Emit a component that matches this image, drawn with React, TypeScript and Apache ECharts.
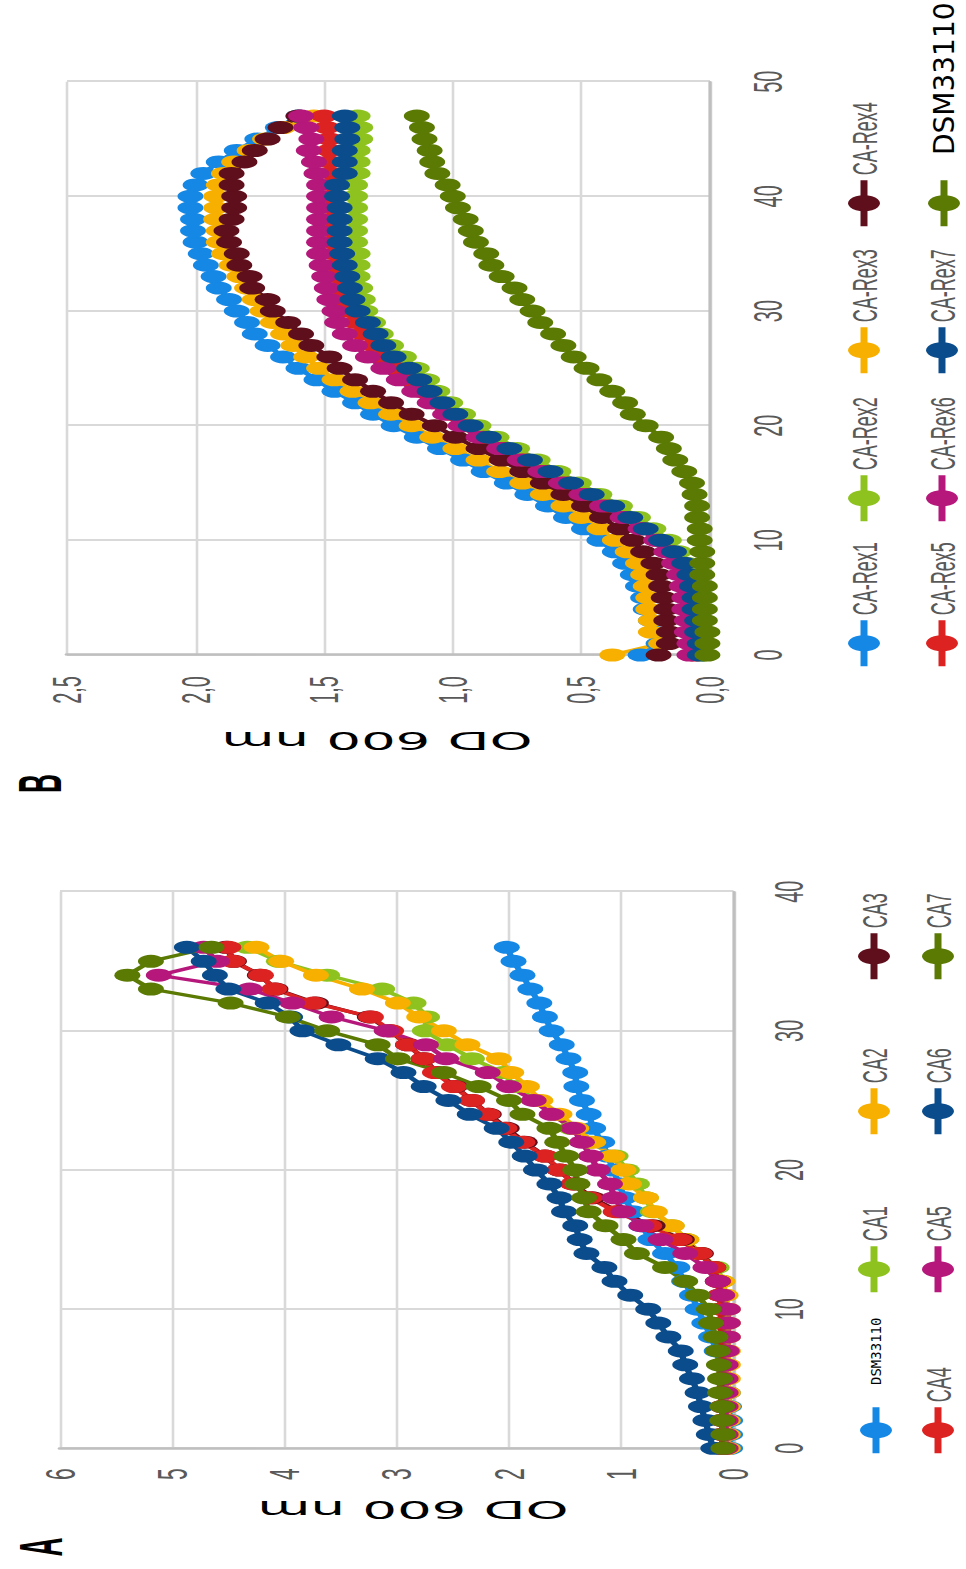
import React, { useEffect, useRef } from 'react';
import * as echarts from 'echarts';

// ---------- Panel A (time in h, OD600) ----------
const hoursA = [0,1,2,3,4,5,6,7,8,9,10,11,12,13,14,15,16,17,18,19,20,21,22,23,24,25,26,27,28,29,30,31,32,33,34,35,36];
const namesA = ['DSM33110', 'CA1', 'CA2', 'CA3', 'CA4', 'CA5', 'CA6', 'CA7'];
const dsmA = [0.03,0.03,0.03,0.04,0.05,0.07,0.10,0.15,0.20,0.26,0.32,0.37,0.44,0.50,0.61,0.74,0.82,0.90,0.97,1.02,1.07,1.12,1.17,1.25,1.29,1.35,1.40,1.41,1.47,1.53,1.62,1.68,1.73,1.81,1.88,1.96,2.02];
const ca1 = [0.06,0.06,0.06,0.06,0.06,0.06,0.06,0.06,0.07,0.07,0.07,0.08,0.10,0.15,0.30,0.42,0.55,0.72,0.78,0.86,0.95,1.05,1.28,1.45,1.60,1.75,1.95,2.05,2.33,2.55,2.75,2.73,2.85,3.13,3.62,4.05,4.33];
const ca2 = [0.05,0.05,0.05,0.05,0.05,0.05,0.05,0.05,0.05,0.05,0.05,0.07,0.10,0.18,0.30,0.42,0.55,0.70,0.78,0.93,0.98,1.08,1.25,1.40,1.55,1.72,1.84,1.98,2.09,2.37,2.58,2.80,2.99,3.31,3.72,4.03,4.25];
const ca3 = [0.10,0.10,0.10,0.10,0.10,0.10,0.10,0.10,0.10,0.11,0.11,0.12,0.14,0.18,0.29,0.46,0.72,1.02,1.26,1.42,1.55,1.68,1.86,2.02,2.18,2.33,2.48,2.64,2.76,2.90,3.06,3.24,3.72,4.08,4.22,4.45,4.52];
const ca4 = [0.10,0.10,0.10,0.10,0.10,0.10,0.10,0.10,0.11,0.11,0.11,0.12,0.14,0.18,0.30,0.48,0.75,1.05,1.28,1.43,1.55,1.68,1.88,2.04,2.19,2.33,2.49,2.66,2.76,2.90,3.05,3.23,3.74,4.09,4.21,4.46,4.50];
const ca5 = [0.07,0.07,0.07,0.07,0.07,0.07,0.07,0.06,0.05,0.05,0.05,0.10,0.14,0.25,0.43,0.65,0.82,0.98,1.06,1.10,1.21,1.27,1.35,1.43,1.62,1.78,2.00,2.19,2.56,2.74,3.09,3.58,3.93,4.31,5.12,4.60,4.72];
const ca6 = [0.18,0.22,0.25,0.29,0.32,0.37,0.43,0.47,0.58,0.67,0.76,0.92,1.06,1.15,1.31,1.37,1.41,1.51,1.55,1.64,1.76,1.86,1.98,2.11,2.35,2.54,2.76,2.94,3.17,3.52,3.84,3.95,4.15,4.50,4.62,4.72,4.87];
const ca7 = [0.09,0.09,0.10,0.10,0.12,0.12,0.13,0.14,0.16,0.20,0.22,0.32,0.43,0.61,0.86,0.98,1.14,1.29,1.33,1.39,1.41,1.49,1.57,1.64,1.88,2.00,2.27,2.58,2.99,3.17,3.62,3.97,4.48,5.19,5.40,5.19,4.65];
const valuesA = [dsmA, ca1, ca2, ca3, ca4, ca5, ca6, ca7];

// ---------- Panel B ----------
const hoursB = [0,1,2,3,4,5,6,7,8,9,10,11,12,13,14,15,16,17,18,19,20,21,22,23,24,25,26,27,28,29,30,31,32,33,34,35,36,37,38,39,40,41,42,43,44,45,46,47];
const namesB = ['CA-Rex1', 'CA-Rex2', 'CA-Rex3', 'CA-Rex4', 'CA-Rex5', 'CA-Rex6', 'CA-Rex7', 'DSM33110 (B)'];
const rex1 = [0.27,0.20,0.22,0.23,0.25,0.26,0.28,0.30,0.33,0.37,0.43,0.49,0.56,0.63,0.71,0.79,0.88,0.96,1.05,1.14,1.23,1.31,1.38,1.46,1.53,1.60,1.66,1.72,1.77,1.80,1.84,1.87,1.91,1.93,1.96,1.98,2.00,2.01,2.01,2.02,2.02,2.00,1.97,1.91,1.84,1.76,1.68,1.60];
const rex2 = [0.03,0.03,0.04,0.04,0.05,0.05,0.06,0.07,0.09,0.12,0.16,0.22,0.28,0.35,0.43,0.51,0.59,0.67,0.75,0.83,0.90,0.96,1.01,1.06,1.10,1.14,1.19,1.24,1.28,1.31,1.34,1.35,1.36,1.37,1.37,1.37,1.38,1.38,1.38,1.38,1.38,1.38,1.37,1.37,1.37,1.36,1.36,1.37];
const rex3 = [0.38,0.19,0.23,0.23,0.24,0.24,0.25,0.26,0.28,0.32,0.37,0.43,0.50,0.57,0.65,0.73,0.82,0.90,0.99,1.08,1.16,1.24,1.32,1.39,1.46,1.52,1.57,1.62,1.66,1.70,1.74,1.77,1.80,1.83,1.86,1.89,1.91,1.91,1.92,1.92,1.92,1.91,1.89,1.85,1.79,1.73,1.66,1.54];
const rex4 = [0.20,0.16,0.16,0.17,0.17,0.18,0.19,0.20,0.22,0.26,0.30,0.35,0.42,0.49,0.57,0.65,0.73,0.81,0.90,0.99,1.07,1.16,1.24,1.31,1.38,1.44,1.48,1.55,1.59,1.64,1.70,1.72,1.78,1.79,1.83,1.84,1.87,1.88,1.86,1.85,1.85,1.86,1.86,1.81,1.77,1.72,1.67,1.60];
const rex5 = [0.06,0.06,0.07,0.07,0.08,0.08,0.09,0.10,0.12,0.15,0.20,0.26,0.33,0.40,0.48,0.56,0.64,0.72,0.80,0.88,0.95,1.01,1.07,1.12,1.17,1.22,1.27,1.31,1.35,1.38,1.41,1.43,1.44,1.45,1.46,1.46,1.47,1.47,1.47,1.47,1.47,1.47,1.47,1.48,1.48,1.48,1.49,1.50];
const rex6 = [0.08,0.08,0.09,0.09,0.10,0.10,0.11,0.12,0.14,0.17,0.21,0.27,0.34,0.42,0.50,0.58,0.66,0.74,0.82,0.90,0.97,1.03,1.09,1.15,1.21,1.27,1.33,1.38,1.42,1.45,1.46,1.48,1.49,1.50,1.51,1.52,1.52,1.52,1.52,1.52,1.52,1.52,1.53,1.54,1.56,1.55,1.57,1.59];
const rex7 = [0.04,0.04,0.05,0.05,0.06,0.06,0.07,0.08,0.10,0.14,0.19,0.25,0.31,0.38,0.46,0.54,0.62,0.70,0.78,0.86,0.93,0.99,1.04,1.09,1.13,1.17,1.23,1.27,1.30,1.33,1.37,1.39,1.40,1.41,1.42,1.43,1.44,1.44,1.44,1.44,1.45,1.45,1.42,1.42,1.42,1.41,1.41,1.42];
const dsmB = [0.01,0.01,0.01,0.02,0.02,0.02,0.02,0.03,0.03,0.03,0.04,0.04,0.05,0.05,0.06,0.07,0.10,0.135,0.16,0.19,0.25,0.30,0.33,0.38,0.43,0.48,0.53,0.57,0.61,0.66,0.69,0.73,0.76,0.81,0.85,0.87,0.91,0.93,0.95,0.98,1.00,1.02,1.06,1.08,1.09,1.11,1.12,1.14];
const valuesB = [rex1, rex2, rex3, rex4, rex5, rex6, rex7, dsmB];

const odTicksB = ['0,0', '0,5', '1,0', '1,5', '2,0', '2,5'];
const axisTitle = 'OD 600 nm';

const colorsA = ['#1588E6', '#8EC31F', '#F7B000', '#5F0F1C', '#DD2222', '#B5177B', '#0B4D8C', '#5A7A04'];
const colorsB = ['#1588E6', '#8EC31F', '#F7B000', '#5F0F1C', '#DD2222', '#B5177B', '#0B4D8C', '#5A7A04'];

const LABEL_FONT = "'Liberation Sans', Arial, sans-serif";
const LABEL_COLOR = '#595959';

function buildOption() {
  const series: any[] = [];
  namesA.forEach((n, i) => {
    series.push({
      name: n, type: 'line', xAxisIndex: 0, yAxisIndex: 0,
      data: hoursA.map((h, j) => [h, valuesA[i][j]]),
      symbol: 'circle', symbolSize: 13,
      itemStyle: { color: colorsA[i] },
      lineStyle: { color: colorsA[i], width: 3.2 },
    });
  });
  namesB.forEach((n, i) => {
    series.push({
      name: n, type: 'line', xAxisIndex: 1, yAxisIndex: 1,
      data: hoursB.map((h, j) => [h, valuesB[i][j]]),
      symbol: 'circle', symbolSize: 13,
      itemStyle: { color: colorsB[i] },
      lineStyle: { color: colorsB[i], width: 3.2 },
    });
  });

  const legendBase = {
    orient: 'horizontal', padding: 0, itemWidth: 46, itemHeight: 20, itemGap: 0,
    selectedMode: false,
    textStyle: { fontSize: 18, color: LABEL_COLOR, fontFamily: LABEL_FONT },
    lineStyle: { width: 3.5 },
  };
  const colLeftA = [114, 275, 433, 588];
  const rowTopA = [428, 460];
  const colLeftB = [901, 1046, 1194, 1341];
  const rowTopB = [423, 462];
  const legends: any[] = [];
  namesA.forEach((n, i) => {
    const l: any = { ...legendBase, data: [n], left: colLeftA[i % 4], top: rowTopA[Math.floor(i / 4)] };
    if (n === 'DSM33110') l.formatter = () => '';
    legends.push(l);
  });
  namesB.forEach((n, i) => {
    const l: any = { ...legendBase, data: [n], left: colLeftB[i % 4], top: rowTopB[Math.floor(i / 4)] };
    if (n === 'DSM33110 (B)') l.formatter = () => '';
    legends.push(l);
  });

  const xAxisCommon = {
    type: 'value', min: 0, interval: 10,
    axisLine: { show: true, onZero: false, lineStyle: { color: '#bfbfbf', width: 1.6 } },
    axisTick: { show: false },
    axisLabel: { margin: 18, fontSize: 20, color: LABEL_COLOR, fontFamily: LABEL_FONT },
    splitLine: { show: true, lineStyle: { color: '#d9d9d9', width: 2 } },
  };
  const yAxisCommon = {
    type: 'value', min: 0,
    axisLine: { show: true, lineStyle: { color: '#bfbfbf', width: 2.5 } },
    axisTick: { show: false },
    splitLine: { show: true, lineStyle: { color: '#d9d9d9', width: 1.3 } },
  };

  const titleStyle = { text: axisTitle, fontSize: 25, fontFamily: "'DejaVu Sans', Verdana, sans-serif", fill: '#000', textAlign: 'center', textVerticalAlign: 'middle' };
  const letterStyle = { fontSize: 31, fontWeight: 'bold', fontFamily: "'Liberation Sans', Arial, sans-serif", fill: '#000', textAlign: 'center', textVerticalAlign: 'middle' };

  return {
    animation: false,
    backgroundColor: '#ffffff',
    grid: [
      { left: 120.7, top: 30, width: 556.6, height: 336.75 },
      { left: 914, top: 33.5, width: 573.3, height: 321.5 },
    ],
    xAxis: [
      { ...xAxisCommon, gridIndex: 0, max: 40 },
      { ...xAxisCommon, gridIndex: 1, max: 50, axisLabel: { ...xAxisCommon.axisLabel, margin: 19 } },
    ],
    yAxis: [
      { ...yAxisCommon, gridIndex: 0, max: 6, interval: 1,
        axisLabel: { margin: 20, fontSize: 21, color: LABEL_COLOR, fontFamily: LABEL_FONT } },
      { ...yAxisCommon, gridIndex: 1, max: 2.5, interval: 0.5,
        axisLabel: { margin: 21, fontSize: 20, color: LABEL_COLOR, fontFamily: LABEL_FONT,
          formatter: (v: number) => odTicksB[Math.round(v / 0.5)] } },
    ],
    legend: legends,
    series,
    graphic: {
      elements: [
        { type: 'text', x: 59, y: 206.5, rotation: Math.PI / 2, scaleX: 1.09, style: { ...titleStyle } },
        { type: 'text', x: 828, y: 188.5, rotation: Math.PI / 2, scaleX: 1.09, style: { ...titleStyle } },
        { type: 'text', x: 22, y: 20.5, scaleX: 0.85, style: { ...letterStyle, text: 'A' } },
        { type: 'text', x: 785.5, y: 20, scaleX: 0.85, style: { ...letterStyle, text: 'B' } },
        { type: 'text', x: 184, y: 438, scaleY: 0.5,
          style: { text: 'DSM33110', fontSize: 14, fontFamily: "'DejaVu Sans Mono', monospace", fill: '#000', textAlign: 'left', textVerticalAlign: 'middle' } },
        { type: 'text', x: 1414, y: 472, scaleY: 0.5,
          style: { text: 'DSM33110', fontSize: 28, fontFamily: "'DejaVu Sans', sans-serif", fill: '#000', textAlign: 'left', textVerticalAlign: 'middle' } },
      ],
    },
  };
}

export default function App() {
  const ref = useRef<HTMLDivElement>(null);
  useEffect(() => {
    if (!ref.current) return;
    const chart = echarts.init(ref.current, null, { renderer: 'svg' });
    chart.setOption(buildOption() as any);
    return () => chart.dispose();
  }, []);
  return (
    <div style={{ position: 'absolute', left: 0, top: 0, width: 966, height: 1569, overflow: 'hidden', background: '#fff' }}>
      <div
        ref={ref}
        style={{
          position: 'absolute', left: 0, top: 0, width: 1569, height: 483,
          transformOrigin: '0 0', transform: 'matrix(0, -1, 2, 0, 0, 1569)',
        }}
      />
    </div>
  );
}
